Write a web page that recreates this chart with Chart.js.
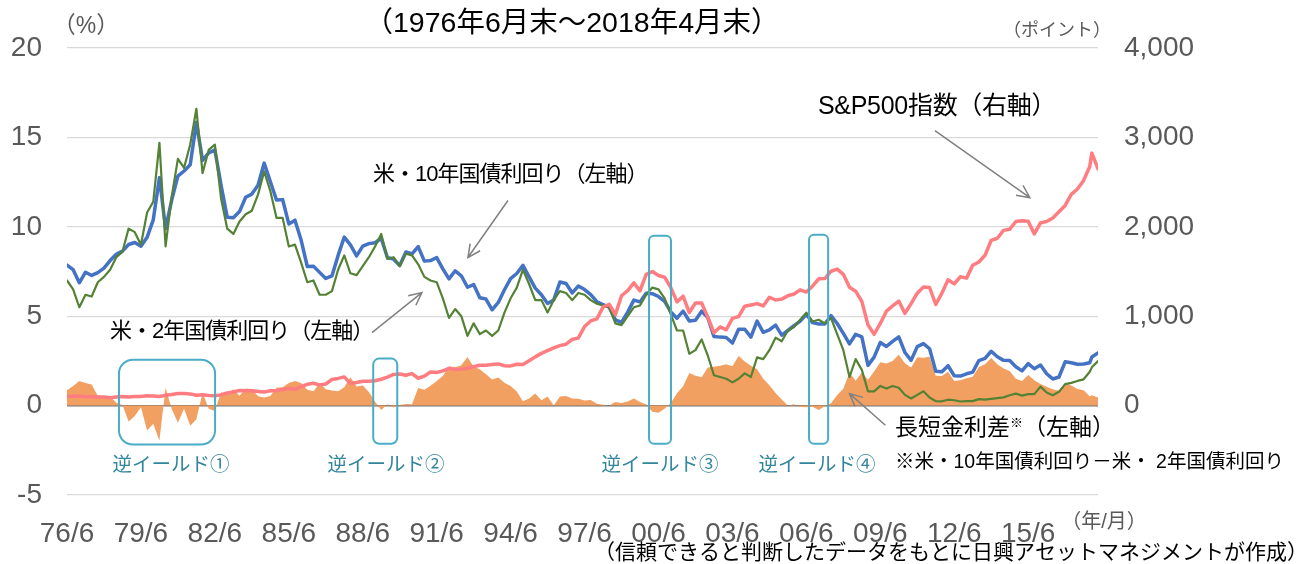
<!DOCTYPE html>
<html lang="ja">
<head>
<meta charset="UTF-8">
<title>米国債利回りとS&amp;P500指数</title>
<script src="https://cdn.jsdelivr.net/npm/chart.js@4.4.1/dist/chart.umd.min.js"></script>
<style>
  body { margin: 0; background: #fff; }
  .wrap { width: 1302px; height: 564px; }
</style>
</head>
<body>
<div class="wrap"><canvas id="yieldChart" width="1302" height="564"></canvas></div>
<script>
// x = months since 1976/6. Quarter ends (Jun/Sep/Dec/Mar) up to 2017/12, then 2018/1 and 2018/4
const pointMonths = [];
for (let m = 0; m <= 498; m += 3) pointMonths.push(m);
pointMonths.push(499, 502);

const xTickMonths = [0, 36, 72, 108, 144, 180, 216, 252, 288, 324, 360, 396, 432, 468];
const xTickLabels = ['76/6', '79/6', '82/6', '85/6', '88/6', '91/6', '94/6', '97/6', '00/6', '03/6', '06/6', '09/6', '12/6', '15/6'];

// 米・10年国債利回り (%)
const us10y = [
  7.86, 7.60, 6.87,
  7.46, 7.28, 7.44, 7.69,
  8.11, 8.46, 8.64, 9.01,
  9.12, 8.91, 9.41, 10.39,
  12.75, 9.90, 11.51, 12.84,
  13.12, 13.47, 15.84, 13.72,
  14.13, 14.30, 12.34, 10.54,
  10.51, 10.85, 11.65, 11.83,
  12.32, 13.56, 12.53, 11.50,
  11.52, 10.16, 10.37, 9.26,
  7.78, 7.80, 7.45, 7.11,
  7.25, 8.40, 9.42, 8.99,
  8.37, 8.92, 9.06, 9.11,
  9.36, 8.28, 8.19, 7.84,
  8.59, 8.48, 8.89, 8.08,
  8.11, 8.28, 7.65, 7.09,
  7.54, 7.26, 6.62, 6.77,
  6.03, 5.96, 5.36, 5.77,
  6.48, 7.10, 7.39, 7.84,
  7.20, 6.57, 6.20, 5.71,
  5.91, 6.91, 6.83, 6.30,
  6.69, 6.49, 6.21, 5.81,
  5.65, 5.50, 4.80, 4.65,
  5.23, 5.90, 5.80, 6.28,
  6.26, 6.10, 5.83, 5.24,
  4.89, 5.28, 4.73, 4.77,
  5.28, 4.93, 3.87, 3.83,
  3.81, 3.50, 4.27, 4.27,
  3.83, 4.73, 4.10, 4.24,
  4.50, 3.94, 4.20, 4.47,
  4.72, 5.11, 4.64, 4.56,
  4.56, 5.03, 4.59, 4.04,
  3.45, 3.99, 3.85, 2.25,
  2.71, 3.53, 3.31, 3.59,
  3.84, 2.97, 2.53, 3.30,
  3.47, 3.18, 1.92, 1.89,
  2.23, 1.67, 1.65, 1.78,
  1.87, 2.52, 2.64, 3.04,
  2.73, 2.53, 2.52, 2.17,
  1.94, 2.35, 2.06, 2.27,
  1.78, 1.49, 1.60, 2.45,
  2.40, 2.31, 2.33, 2.40,
  2.72, 2.95
];

// 米・2年国債利回り (%)
const us2y = [
  7.00, 6.50, 5.50,
  6.20, 6.10, 6.90, 7.20,
  7.60, 8.30, 8.60, 9.90,
  9.70, 9.00, 10.80, 11.40,
  14.70, 8.90, 11.70, 13.80,
  13.30, 14.60, 16.60, 13.00,
  14.30, 14.60, 11.60, 9.90,
  9.60, 10.30, 10.70, 10.90,
  11.80, 13.10, 12.00, 10.50,
  10.50, 8.90, 9.00, 8.00,
  6.90, 7.00, 6.20, 6.20,
  6.40, 7.60, 8.40, 7.40,
  7.30, 7.80, 8.30, 8.90,
  9.60, 8.20, 8.30, 7.80,
  8.50, 8.40, 7.90, 7.20,
  7.00, 6.90, 6.00, 4.90,
  5.40, 5.00, 3.90, 4.60,
  4.00, 4.20, 3.90, 4.20,
  5.20, 6.00, 6.60, 7.60,
  6.80, 5.90, 5.90, 5.20,
  5.90, 6.40, 6.30, 5.90,
  6.30, 6.20, 5.90, 5.70,
  5.60, 5.50, 4.60, 4.50,
  5.00, 5.50, 5.60, 6.20,
  6.60, 6.50, 6.00, 5.10,
  4.20, 4.20, 2.90, 3.10,
  3.70, 2.80, 1.70, 1.60,
  1.50, 1.30, 1.50, 1.80,
  1.60, 2.70, 2.60, 3.10,
  3.80, 3.60, 4.20, 4.40,
  4.80, 5.20, 4.70, 4.80,
  4.60, 4.90, 4.00, 3.10,
  1.60, 2.60, 2.00, 0.80,
  0.80, 1.10, 0.95, 1.10,
  1.00, 0.60, 0.40, 0.60,
  0.80, 0.45, 0.25, 0.24,
  0.33, 0.30, 0.23, 0.25,
  0.25, 0.36, 0.33, 0.38,
  0.42, 0.46, 0.58, 0.67,
  0.56, 0.64, 0.64, 1.06,
  0.73, 0.58, 0.77, 1.20,
  1.27, 1.38, 1.47, 1.89,
  2.14, 2.49
];

// S&P500指数 (ポイント)
const spx = [
  104, 105, 107,
  98, 100, 97, 95,
  89, 96, 102, 96,
  102, 103, 109, 108,
  102, 115, 125, 136,
  136, 131, 116, 122,
  112, 110, 120, 141,
  153, 168, 166, 165,
  159, 153, 166, 167,
  181, 192, 182, 211,
  238, 251, 231, 242,
  292, 304, 321, 247,
  259, 273, 272, 278,
  295, 318, 349, 353,
  339, 358, 306, 330,
  375, 371, 388, 417,
  404, 408, 418, 436,
  452, 451, 459, 466,
  446, 444, 463, 459,
  501, 545, 584, 616,
  645, 671, 687, 741,
  757, 885, 947, 970,
  1102, 1134, 1017, 1229,
  1286, 1373, 1283, 1469,
  1499, 1455, 1436, 1320,
  1160, 1224, 1041, 1148,
  1147, 990, 815, 880,
  848, 975, 996, 1112,
  1126, 1141, 1115, 1212,
  1181, 1191, 1229, 1248,
  1295, 1270, 1336, 1418,
  1421, 1503, 1527, 1468,
  1323, 1280, 1166, 903,
  798, 919, 1057, 1115,
  1169, 1031, 1141, 1258,
  1326, 1321, 1131, 1258,
  1408, 1362, 1441, 1426,
  1569, 1606, 1682, 1848,
  1872, 1960, 1972, 2059,
  2068, 2063, 1920, 2044,
  2060, 2099, 2168, 2239,
  2363, 2423, 2519, 2674,
  2824, 2648
];

// 長短金利差 = 10年 - 2年
const spread = us10y.map((v, i) => +(v - us2y[i]).toFixed(2));

const toPoints = arr => arr.map((v, i) => ({ x: pointMonths[i], y: v }));

const FONT = '"Liberation Sans", "Noto Sans CJK JP", sans-serif';

// 逆イールド boxes, in months / % units
const invertBoxes = [
  { from: 25.3, to: 72.1, top: 2.57, bottom: -2.18, r: 14, label: '逆イールド①', labelX: 171 },
  { from: 149.1, to: 160.8, top: 2.63, bottom: -2.13, r: 6, label: '逆イールド②', labelX: 386 },
  { from: 283.4, to: 294.1, top: 9.5, bottom: -2.13, r: 5, label: '逆イールド③', labelX: 660 },
  { from: 361.3, to: 370.6, top: 9.56, bottom: -2.13, r: 5, label: '逆イールド④', labelX: 817 }
];

// arrows from label to line, in months / % units
const arrows = [
  { from: [214.7, 11.47], to: [195.2, 8.28] },
  { from: [148.5, 4.08], to: [172.8, 6.32] },
  { from: [422.6, 15.38], to: [468.8, 11.63] },
  { from: [398.5, -1.1], to: [381.0, 0.67] }
];

const annotationPlugin = {
  id: 'annotations',
  afterDatasetsDraw(chart) {
    const { ctx, scales: { x, y } } = chart;
    ctx.save();

    // boxes
    ctx.strokeStyle = '#4BACC6';
    ctx.lineWidth = 2;
    invertBoxes.forEach(b => {
      const l = x.getPixelForValue(b.from), r = x.getPixelForValue(b.to);
      const t = y.getPixelForValue(b.top), bt = y.getPixelForValue(b.bottom);
      ctx.beginPath();
      ctx.roundRect(l, t, r - l, bt - t, b.r);
      ctx.stroke();
    });

    // arrows
    ctx.strokeStyle = '#808080';
    ctx.lineWidth = 1.5;
    arrows.forEach(a => {
      const x1 = x.getPixelForValue(a.from[0]), y1 = y.getPixelForValue(a.from[1]);
      const x2 = x.getPixelForValue(a.to[0]), y2 = y.getPixelForValue(a.to[1]);
      const ang = Math.atan2(y2 - y1, x2 - x1), h = 14;
      ctx.beginPath();
      ctx.moveTo(x1, y1);
      ctx.lineTo(x2, y2);
      ctx.moveTo(x2 - h * Math.cos(ang - 0.45), y2 - h * Math.sin(ang - 0.45));
      ctx.lineTo(x2, y2);
      ctx.lineTo(x2 - h * Math.cos(ang + 0.45), y2 - h * Math.sin(ang + 0.45));
      ctx.stroke();
    });

    // texts
    ctx.textBaseline = 'middle';
    const text = (s, px, py, size, color, align, spacing) => {
      ctx.font = size + 'px ' + FONT;
      ctx.fillStyle = color;
      ctx.textAlign = align || 'left';
      ctx.letterSpacing = (spacing || 0) + 'px';
      ctx.fillText(s, px, py);
      ctx.letterSpacing = '0px';
    };
    text('（1976年6月末～2018年4月末）', 572, 24, 28.5, '#000', 'center');
    text('（%）', 86, 27, 23, '#595959', 'center');
    text('（ポイント）', 1057, 31, 18, '#595959', 'center');
    text('S&P500指数（右軸）', 818, 107, 25, '#000', 'left', -0.3);
    text('米・10年国債利回り（左軸）', 373, 175, 22, '#000', 'left', -1);
    text('米・2年国債利回り（左軸）', 110, 332, 22, '#000', 'left', -1);
    text('長短金利差', 895, 429, 23, '#000');
    ctx.font = '23px ' + FONT;
    let w = ctx.measureText('長短金利差').width;
    text('※', 895 + w, 423, 13, '#000');
    ctx.font = '13px ' + FONT;
    w += ctx.measureText('※').width;
    text('（左軸）', 895 + w, 429, 23, '#000');
    text('※米・10年国債利回り－米・ 2年国債利回り', 895, 463, 19.5, '#000');
    invertBoxes.forEach(b => text(b.label, b.labelX, 466, 19.5, '#31859C', 'center'));
    text('（年/月）', 1104, 522, 20, '#595959', 'center');
    text('（信頼できると判断したデータをもとに日興アセットマネジメントが作成）', 951, 553, 21, '#000', 'center');
    ctx.restore();
  }
};

const ctx = document.getElementById('yieldChart').getContext('2d');
new Chart(ctx, {
  type: 'line',
  data: {
    datasets: [
      { label: 'S&P500指数（右軸）', data: toPoints(spx), yAxisID: 'y1', borderColor: '#FF7C80', borderWidth: 3.5 },
      { label: '米・2年国債利回り（左軸）', data: toPoints(us2y), yAxisID: 'y', borderColor: '#548235', borderWidth: 2.2 },
      { label: '米・10年国債利回り（左軸）', data: toPoints(us10y), yAxisID: 'y', borderColor: '#4472C4', borderWidth: 3.5 },
      { label: '長短金利差※（左軸）', data: toPoints(spread), yAxisID: 'y', fill: 'origin', backgroundColor: '#F2A062', borderWidth: 0 }
    ]
  },
  options: {
    responsive: false,
    animation: false,
    layout: { padding: { top: 48, left: 0, right: 0, bottom: 0 } },
    elements: {
      point: { radius: 0 },
      line: { tension: 0, borderJoinStyle: 'round', borderCapStyle: 'round' }
    },
    plugins: { legend: { display: false }, tooltip: { enabled: false } },
    scales: {
      x: {
        type: 'linear',
        min: 0,
        max: 502,
        grid: { display: false },
        border: { display: false },
        afterBuildTicks: s => { s.ticks = xTickMonths.map(v => ({ value: v })); },
        afterFit: s => { s.height = 69; },
        ticks: {
          autoSkip: false,
          maxRotation: 0,
          padding: 14,
          color: '#595959',
          font: { size: 28, family: FONT },
          callback: v => xTickLabels[xTickMonths.indexOf(v)]
        }
      },
      y: {
        position: 'left',
        min: -5,
        max: 20,
        afterFit: s => { s.width = 67; },
        border: { display: false },
        grid: {
          drawTicks: false,
          color: c => c.tick.value === 0 ? '#707070' : '#D9D9D9',
          lineWidth: c => c.tick.value === 0 ? 1.5 : 1.3
        },
        ticks: { stepSize: 5, padding: 25, color: '#595959', font: { size: 28, family: FONT } }
      },
      y1: {
        position: 'right',
        min: -1000,
        max: 4000,
        afterFit: s => { s.width = 204; },
        border: { display: false },
        grid: { display: false, drawTicks: false },
        ticks: {
          stepSize: 1000,
          padding: 26,
          color: '#595959',
          font: { size: 28, family: FONT },
          callback: v => v < 0 ? '' : v.toLocaleString('en-US')
        }
      }
    }
  },
  plugins: [annotationPlugin]
});
</script>
</body>
</html>
